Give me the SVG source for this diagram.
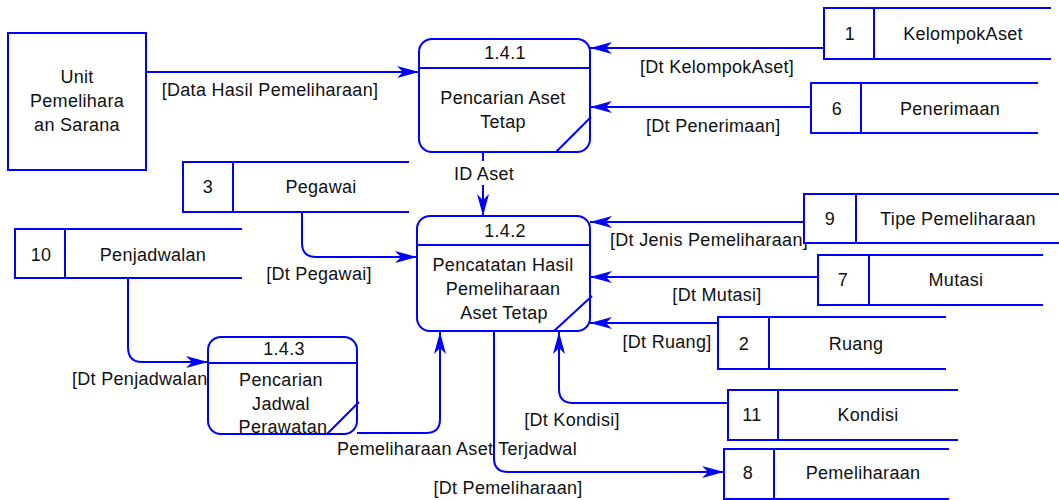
<svg xmlns="http://www.w3.org/2000/svg" width="1059" height="500" viewBox="0 0 1059 500">
  <style>
    text { font-family: "Liberation Sans", Arial, sans-serif; font-size: 18px; letter-spacing: 0.3px; fill: #111; }
    .c { text-anchor: middle; }
    .s { text-anchor: start; }
    .shape { fill: #fff; stroke: #0000ff; stroke-width: 2; }
    .ln { fill: none; stroke: #0000ff; stroke-width: 2; }
    .flow { fill: none; stroke: #0000ff; stroke-width: 2; marker-end: url(#arrow); }
  </style>
  <defs>
    <marker id="arrow" markerUnits="userSpaceOnUse" markerWidth="24" markerHeight="14" viewBox="-23 -7 24 14" refX="0" refY="0" orient="auto">
      <path d="M-22,-6 L0,0 L-22,6 L-16,0 Z" fill="#0000ff"/>
    </marker>
  </defs>
  <rect width="1059" height="500" fill="#fff"/>

  <!-- data flows -->
  <g id="connectors">
    <path class="flow" d="M146,72 H419"/>
    <text class="c" x="270" y="96">[Data Hasil Pemeliharaan]</text>

    <path class="flow" d="M824,48 H590"/>
    <text class="s" x="640" y="73">[Dt KelompokAset]</text>

    <path class="flow" d="M811,107 H590"/>
    <text class="s" x="646" y="132">[Dt Penerimaan]</text>

    <path class="flow" d="M483,152 V161 M483,185 V216"/>
    <text class="c" x="484" y="180">ID Aset</text>

    <path class="flow" d="M302,212 V243 Q302,257 316,257 H417"/>
    <text class="c" x="319" y="280">[Dt Pegawai]</text>

    <path class="flow" d="M804,222 H590"/>
    <text class="s" x="610" y="246">[Dt Jenis Pemeliharaan]</text>

    <path class="flow" d="M818,277 H590"/>
    <text class="c" x="717" y="301">[Dt Mutasi]</text>

    <path class="flow" d="M718,323 H590"/>
    <text class="c" x="667" y="348">[Dt Ruang]</text>

    <path class="flow" d="M728,403 H573 Q559,403 559,389 V332"/>
    <text class="c" x="572" y="426">[Dt Kondisi]</text>

    <path class="flow" d="M128,278 V347 Q128,362 142,362 H208"/>
    <text class="s" x="72" y="385">[Dt Penjadwalan]</text>

    <path class="flow" d="M357,433 H426 Q440,433 440,419 V332"/>
    <text class="c" x="457" y="455">Pemeliharaan Aset Terjadwal</text>

    <path class="flow" d="M494,331 V458 Q494,472 508,472 H724"/>
    <text class="c" x="508" y="494">[Dt Pemeliharaan]</text>
  </g>

  <!-- external entity -->
  <g id="unit-pemeliharaan-sarana">
    <rect class="shape" x="8" y="33" width="138" height="137"/>
    <text class="c" x="77" y="83">Unit</text>
    <text class="c" x="77" y="107">Pemelihara</text>
    <text class="c" x="77" y="131">an Sarana</text>
  </g>

  <!-- processes -->
  <g id="p141">
    <rect class="shape" x="419" y="39" width="171" height="113" rx="13"/>
    <path class="ln" d="M419,68 H590 M556,152 L591,117"/>
    <text class="c" x="505" y="59">1.4.1</text>
    <text class="c" x="503" y="104">Pencarian Aset</text>
    <text class="c" x="503" y="128">Tetap</text>
  </g>

  <g id="p142">
    <rect class="shape" x="417" y="216" width="173" height="115" rx="13"/>
    <path class="ln" d="M417,245 H590 M554,331 L592,296"/>
    <text class="c" x="505" y="237">1.4.2</text>
    <text class="c" x="503" y="271">Pencatatan Hasil</text>
    <text class="c" x="503" y="295">Pemeliharaan</text>
    <text class="c" x="504" y="319">Aset Tetap</text>
  </g>

  <g id="p143">
    <rect class="shape" x="208" y="337" width="149" height="97" rx="13"/>
    <path class="ln" d="M208,363 H357 M327,434 L359,402"/>
    <text class="c" x="284" y="355">1.4.3</text>
    <text class="c" x="281" y="386">Pencarian</text>
    <text class="c" x="281" y="410">Jadwal</text>
    <text class="c" x="283" y="433">Perawatan</text>
  </g>

  <!-- data stores -->
  <g id="ds1">
    <path class="shape" d="M1051,8 H824 V59 H1051"/>
    <path class="ln" d="M874,8 V59"/>
    <text class="c" x="850" y="40">1</text>
    <text class="c" x="963" y="40">KelompokAset</text>
  </g>

  <g id="ds6">
    <path class="shape" d="M1038,83 H811 V133 H1038"/>
    <path class="ln" d="M861,83 V133"/>
    <text class="c" x="837" y="115">6</text>
    <text class="c" x="950" y="115">Penerimaan</text>
  </g>

  <g id="ds3">
    <path class="shape" d="M409,162 H183 V212 H409"/>
    <path class="ln" d="M233,162 V212"/>
    <text class="c" x="208" y="193">3</text>
    <text class="c" x="321" y="193">Pegawai</text>
  </g>

  <g id="ds10">
    <path class="shape" d="M242,229 H15 V278 H242"/>
    <path class="ln" d="M65,229 V278"/>
    <text class="c" x="41" y="261">10</text>
    <text class="c" x="153" y="261">Penjadwalan</text>
  </g>

  <g id="ds9">
    <path class="shape" d="M1059,194 H804 V243 H1059"/>
    <path class="ln" d="M856,194 V243"/>
    <text class="c" x="830" y="225">9</text>
    <text class="c" x="958" y="225">Tipe Pemeliharaan</text>
  </g>

  <g id="ds7">
    <path class="shape" d="M1043,255 H818 V305 H1043"/>
    <path class="ln" d="M869,255 V305"/>
    <text class="c" x="843" y="286">7</text>
    <text class="c" x="956" y="286">Mutasi</text>
  </g>

  <g id="ds2">
    <path class="shape" d="M946,317 H718 V369 H946"/>
    <path class="ln" d="M769,317 V369"/>
    <text class="c" x="744" y="350">2</text>
    <text class="c" x="856" y="350">Ruang</text>
  </g>

  <g id="ds11">
    <path class="shape" d="M958,390 H728 V440 H958"/>
    <path class="ln" d="M778,390 V440"/>
    <text class="c" x="752" y="421">11</text>
    <text class="c" x="868" y="421">Kondisi</text>
  </g>

  <g id="ds8">
    <path class="shape" d="M949,449 H724 V499 H949"/>
    <path class="ln" d="M774,449 V499"/>
    <text class="c" x="748" y="479">8</text>
    <text class="c" x="863" y="479">Pemeliharaan</text>
  </g>
</svg>
